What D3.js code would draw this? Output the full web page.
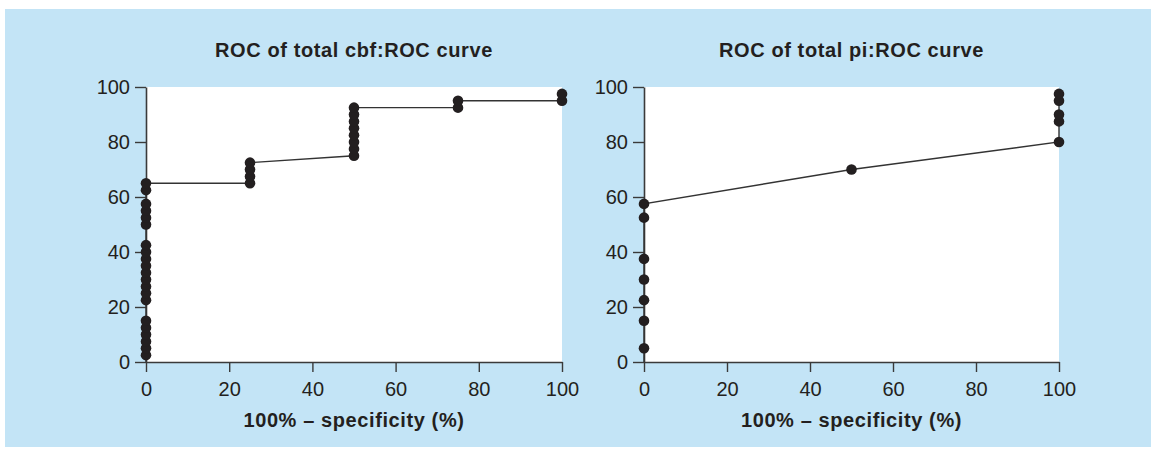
<!DOCTYPE html>
<meta charset="utf-8">
<style>
	body { margin: 0; background: #fff; }
	svg { display: block; font-family: "Liberation Sans", Arial, sans-serif; }
</style>
<body>
<div id="vis"></div>
<script src="https://cdn.jsdelivr.net/npm/d3@7"></script>
<script>
	// ---- data ----
	const titles = ["ROC of total cbf:ROC curve", "ROC of total pi:ROC curve"];
	const xLabel = "100% \u2013 specificity (%)";
	const tickValues = [0, 20, 40, 60, 80, 100];

	// cbf: observed points (1 - specificity, sensitivity)
	const cbfFpr = [0, 0, 0, 0, 0, 0, 0, 0, 0, 0, 0, 0, 0, 0, 0, 0, 0, 0, 0, 0, 0,
		25, 25, 25, 25, 50, 50, 50, 50, 50, 50, 50, 50, 75, 75, 100, 100];
	const cbfSens = [2.5, 5, 7.5, 10, 12.5, 15, 22.5, 25, 27.5, 30, 32.5, 35, 37.5, 40, 42.5,
		50, 52.5, 55, 57.5, 62.5, 65,
		65, 67.5, 70, 72.5, 75, 77.5, 80, 82.5, 85, 87.5, 90, 92.5, 92.5, 95, 95, 97.5];
	// cbf: curve vertices
	const cbfCurveX = [0, 0, 25, 25, 50, 50, 75, 75, 100, 100];
	const cbfCurveY = [0, 65, 65, 72.5, 75, 92.5, 92.5, 95, 95, 97.5];

	// pi: observed points
	const piFpr = [0, 0, 0, 0, 0, 0, 0, 50, 100, 100, 100, 100, 100];
	const piSens = [5, 15, 22.5, 30, 37.5, 52.5, 57.5, 70, 80, 87.5, 90, 95, 97.5];
	// pi: curve vertices
	const piCurveX = [0, 0, 50, 100, 100];
	const piCurveY = [0, 57.5, 70, 80, 97.5];

	const panels = [
		{ title: titles[0], px: cbfFpr, py: cbfSens, cx: cbfCurveX, cy: cbfCurveY, left: 146, right: 562 },
		{ title: titles[1], px: piFpr, py: piSens, cx: piCurveX, cy: piCurveY, left: 644, right: 1059 }
	];

	// ---- layout ----
	const width = 1156, height = 450;
	const plotTop = 87, plotBottom = 362;
	const ink = "#231f20";

	const svg = d3.select("#vis").append("svg")
		.attr("width", width)
		.attr("height", height);

	svg.append("rect")
		.attr("x", 5).attr("y", 9)
		.attr("width", 1146).attr("height", 438)
		.attr("fill", "#c3e4f6");

	panels.forEach(function (p) {
		const x = d3.scaleLinear().domain([0, 100]).range([p.left, p.right]);
		const y = d3.scaleLinear().domain([0, 100]).range([plotBottom, plotTop]);
		const g = svg.append("g");

		g.append("rect")
			.attr("x", x(0)).attr("y", y(100))
			.attr("width", x(100) - x(0)).attr("height", y(0) - y(100))
			.attr("fill", "#fff");

		const xAxis = g.append("g")
			.attr("transform", "translate(0," + plotBottom + ")")
			.call(d3.axisBottom(x).tickValues(tickValues).tickSize(10).tickPadding(10).tickSizeOuter(0));
		const yAxis = g.append("g")
			.attr("transform", "translate(" + p.left + ",0)")
			.call(d3.axisLeft(y).tickValues(tickValues).tickSize(11).tickPadding(5).tickSizeOuter(0));

		[xAxis, yAxis].forEach(function (a) {
			a.select(".domain").attr("stroke", "#3a3a3a").attr("stroke-width", 1.6);
			a.selectAll(".tick line").attr("stroke", "#3a3a3a").attr("stroke-width", 1.4);
			a.selectAll(".tick text")
				.attr("fill", ink)
				.style("font-size", "20px");
		});

		// curve
		const line = d3.line().x(d => x(d[0])).y(d => y(d[1]));
		g.append("path")
			.datum(d3.zip(p.cx, p.cy))
			.attr("d", line)
			.attr("fill", "none")
			.attr("stroke", "#333")
			.attr("stroke-width", 1.4);

		// points
		g.selectAll("circle.pt")
			.data(d3.zip(p.px, p.py))
			.enter()
			.append("circle")
			.attr("class", "pt")
			.attr("cx", d => x(d[0]))
			.attr("cy", d => y(d[1]))
			.attr("r", 5.3)
			.attr("fill", ink);

		// title
		const mid = (p.left + p.right) / 2;
		g.append("text")
			.attr("x", mid).attr("y", 57)
			.attr("text-anchor", "middle")
			.attr("font-weight", "bold")
			.style("font-size", "20px")
			.style("letter-spacing", "0.6px")
			.attr("fill", ink)
			.text(p.title);

		g.append("text")
			.attr("x", mid).attr("y", 427)
			.attr("text-anchor", "middle")
			.attr("font-weight", "bold")
			.style("font-size", "20px")
			.style("letter-spacing", "0.6px")
			.attr("fill", ink)
			.text(xLabel);
	});
</script>
</body>
